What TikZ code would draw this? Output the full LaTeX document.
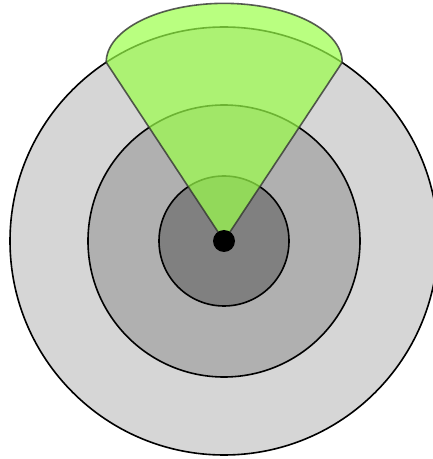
\documentclass[tikz,border=0pt]{standalone}
\usepackage{tikz}
\definecolor{RadarOuter}{HTML}{D6D6D6}
\definecolor{RadarMid}{HTML}{B0B0B0}
\definecolor{RadarInner}{HTML}{808080}
\definecolor{RadarBeam}{RGB}{155,255,74}

\begin{document}
\begin{tikzpicture}[
        x=1pt,y=1pt,
        ring/.style={draw=black,line width=1.6pt},
        beam/.style={fill=RadarBeam,fill opacity=0.7,draw=black!80,draw opacity=0.8,line width=1.6pt,line join=round}
      ]
        \useasboundingbox (0,0) rectangle (433,459);
        \coordinate (centre) at (224,218);
        % range rings
        \filldraw[ring,fill=RadarOuter] (centre) circle[radius=214];
        \filldraw[ring,fill=RadarMid] (centre) circle[radius=136];
        \filldraw[ring,fill=RadarInner] (centre) circle[radius=65];
        % beam
        \filldraw[beam] (centre) -- ++(123.4:214) arc[start angle=180,end angle=0,x radius=118,y radius=59] -- cycle;
        \fill[black] (centre) circle[radius=11];
      \end{tikzpicture}
\end{document}
